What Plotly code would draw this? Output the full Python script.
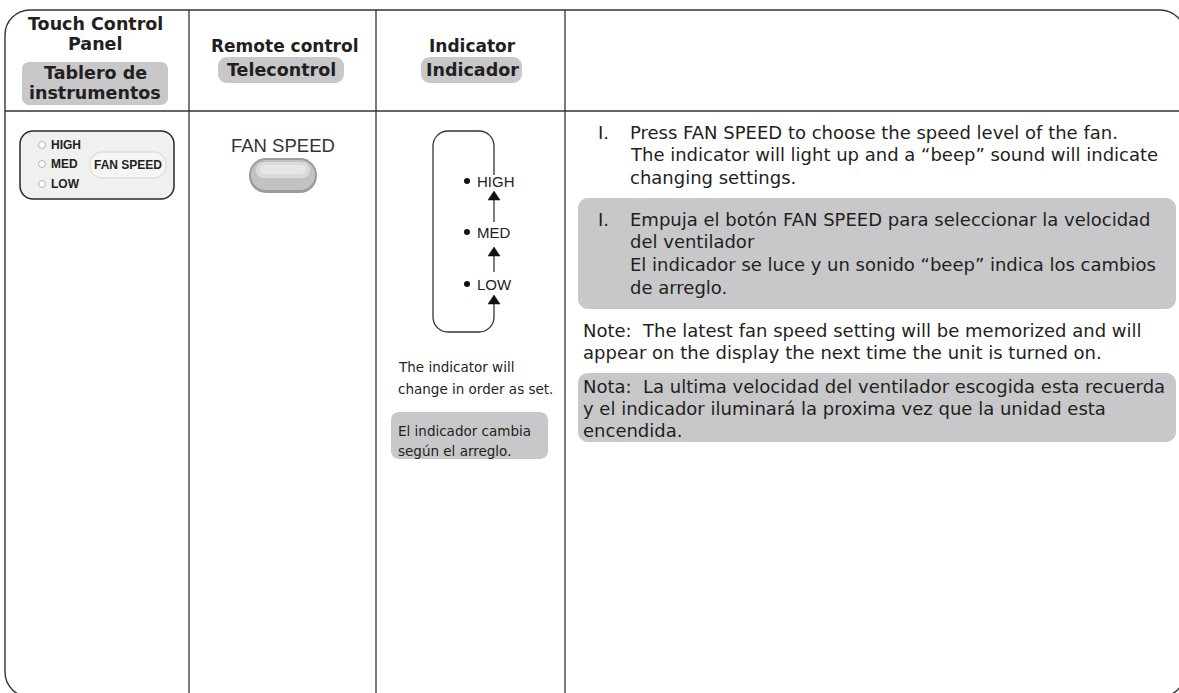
import plotly.graph_objects as go

W, H = 1179, 693

# ---- text content ----
hdr_panel_en = ["Touch Control", "Panel"]
hdr_panel_es = ["Tablero de", "instrumentos"]
hdr_remote_en = ["Remote control"]
hdr_remote_es = ["Telecontrol"]
hdr_ind_en = ["Indicator"]
hdr_ind_es = ["Indicador"]
panel_levels = ["HIGH", "MED", "LOW"]
panel_button = "FAN SPEED"
remote_label = "FAN SPEED"
ind_levels = ["HIGH", "MED", "LOW"]
ind_note_en = ["The indicator will", "change in order as set."]
ind_note_es = ["El indicador cambia", "según el arreglo."]
step_num = "I."
step_en = ["Press FAN SPEED to choose the speed level of the fan.",
           "The indicator will light up and a \u201cbeep\u201d sound will indicate",
           "changing settings."]
step_es = ["Empuja el botón FAN SPEED para seleccionar la velocidad",
           "del ventilador",
           "El indicador se luce y un sonido \u201cbeep\u201d indica los cambios",
           "de arreglo."]
note_en = ["Note:\u00a0 The latest fan speed setting will be memorized and will",
           "appear on the display the next time the unit is turned on."]
note_es = ["Nota:\u00a0 La ultima velocidad del ventilador escogida esta recuerda",
           "y el indicador iluminará la proxima vez que la unidad esta",
           "encendida."]

# ---- layout geometry ----
FRAME = (5, 10, 1185, 697)
COLS = [189, 376, 565]
HDR_Y = 111
LINE = "#333333"
GRAY = "#c8c8ca"
GS = "'DejaVu Sans', sans-serif"
AR = "Arial, 'Liberation Sans', sans-serif"
BODY = 18

K = 0.5523


def rr(x0, y0, x1, y1, r):
    k = r * (1 - K)
    return (f"M{x0+r},{y0} L{x1-r},{y0} C{x1-k},{y0} {x1},{y0+k} {x1},{y0+r} "
            f"L{x1},{y1-r} C{x1},{y1-k} {x1-k},{y1} {x1-r},{y1} "
            f"L{x0+r},{y1} C{x0+k},{y1} {x0},{y1-k} {x0},{y1-r} "
            f"L{x0},{y0+r} C{x0},{y0+k} {x0+k},{y0} {x0+r},{y0} Z")


shapes = []
ann = []


def box(x0, y0, x1, y1, r, fill, line=None, lw=0):
    shapes.append(dict(type="path", path=rr(x0, y0, x1, y1, r), fillcolor=fill,
                       line=dict(color=line or fill, width=lw), layer="below"))


def seg(x0, y0, x1, y1, lw=1.3, color=LINE):
    shapes.append(dict(type="line", x0=x0, y0=y0, x1=x1, y1=y1,
                       line=dict(color=color, width=lw)))


def txt(x, y, s, size, font=GS, anchor="left", bold=False, color="#231f20"):
    ann.append(dict(x=x, y=y, xref="x", yref="y", text=f"<b>{s}</b>" if bold else s,
                    showarrow=False, xanchor=anchor, yanchor="middle",
                    font=dict(family=font, size=size, color=color)))


# frame
shapes.append(dict(type="path", path=rr(*FRAME, 25), line=dict(color=LINE, width=1.4)))
for cx in COLS:
    seg(cx, FRAME[1], cx, FRAME[3])
seg(FRAME[0], HDR_Y, FRAME[2], HDR_Y)

# header
c1 = 95
c2 = 284
c3 = 472
for i, s in enumerate(hdr_panel_en):
    txt(c1, 24 + 20 * i, s, 17.5, anchor="center", bold=True)
box(22, 62, 168, 105, 7, GRAY)
for i, s in enumerate(hdr_panel_es):
    txt(c1, 73 + 20 * i, s, 17.5, anchor="center", bold=True)
txt(c2, 46, hdr_remote_en[0], 17, anchor="center", bold=True)
box(218, 57, 344, 83, 9, GRAY)
txt(c2 - 3, 70, hdr_remote_es[0], 17.5, anchor="center", bold=True)
txt(c3, 46, hdr_ind_en[0], 17, anchor="center", bold=True)
box(421, 57, 522, 83, 9, GRAY)
txt(c3, 70, hdr_ind_es[0], 17.5, anchor="center", bold=True)

# touch panel
box(20, 131, 174, 199, 13, "#f0f0f0", "#2a2a2a", 1.5)
box(90, 152, 166, 178, 12, "#f5f5f5", "#d4d4d4", 1)
panel_y = [145, 164, 184]
for s, y in zip(panel_levels, panel_y):
    txt(49, y, s, 12, font=AR, bold=True)
txt(128, 165, panel_button, 12, font=AR, anchor="center", bold=True)

# remote
txt(c2 - 1, 145, remote_label, 18.5, font=AR, anchor="center", color="#333")
box(249, 158, 317, 193, 17, "#9c9c9c")
box(251, 160, 315, 190, 15, "#c2c2c2")
box(256, 162, 310, 178, 8, "#dadada")
box(260, 165, 306, 174, 4, "#e6e6e6")

# indicator bracket
BX0, BX1, BY0, BY1, R = 433, 494, 131, 332, 15
k = R * (1 - K)
shapes.append(dict(type="path", line=dict(color=LINE, width=1.3), path=(
    f"M{BX1},175 L{BX1},{BY0+R} C{BX1},{BY0+k} {BX1-k},{BY0} {BX1-R},{BY0} "
    f"L{BX0+R},{BY0} C{BX0+k},{BY0} {BX0},{BY0+k} {BX0},{BY0+R} "
    f"L{BX0},{BY1-R} C{BX0},{BY1-k} {BX0+k},{BY1} {BX0+R},{BY1} "
    f"L{BX1-R},{BY1} C{BX1-k},{BY1} {BX1},{BY1-k} {BX1},{BY1-R} L{BX1},303")))
seg(BX1, 199, BX1, 222)
seg(BX1, 256, BX1, 272)
for tip in [191, 247, 295]:
    shapes.append(dict(type="path", path=f"M{BX1},{tip} L{BX1-6},{tip+9} L{BX1+6},{tip+9} Z",
                       fillcolor="#111", line=dict(color="#111", width=0.5)))
ind_y = [181, 232, 284]
for s, y in zip(ind_levels, ind_y):
    txt(475, y, s, 15, font=AR, color="#222")
for i, s in enumerate(ind_note_en):
    txt(396, 367 + 22 * i, s, 13.5)
box(391, 412, 548, 459, 8, GRAY)
for i, s in enumerate(ind_note_es):
    txt(396, 431 + 20 * i, s, 13.5)

# description column
TX = 628
txt(596, 132, step_num, BODY)
for i, s in enumerate(step_en):
    txt(TX, 132 + 22.5 * i, s, BODY)
box(578, 198, 1176, 309, 10, GRAY)
txt(596, 219, step_num, BODY)
for i, s in enumerate(step_es):
    txt(TX, 219 + 22.7 * i, s, BODY)
for i, s in enumerate(note_en):
    txt(581, 330 + 22.5 * i, s, BODY)
box(578, 373, 1176, 442, 10, GRAY)
for i, s in enumerate(note_es):
    txt(581, 386 + 22 * i, s, BODY)

fig = go.Figure()
# dots (panel LEDs and indicator bullets)
fig.add_trace(go.Scatter(x=[42] * 3, y=panel_y, mode="markers", hoverinfo="skip",
                         marker=dict(size=7, color="white", line=dict(color="#b5b5b5", width=1))))
fig.add_trace(go.Scatter(x=[467] * 3, y=ind_y, mode="markers", hoverinfo="skip",
                         marker=dict(size=6, color="#111")))

fig.update_layout(width=W, height=H, margin=dict(l=0, r=0, t=0, b=0),
                  paper_bgcolor="white", plot_bgcolor="white", showlegend=False,
                  shapes=shapes, annotations=ann,
                  xaxis=dict(range=[0, W], visible=False, fixedrange=True),
                  yaxis=dict(range=[H, 0], visible=False, fixedrange=True))
fig.write_html("out.html", config={"displayModeBar": False},
               post_script="document.body.style.margin='0';")
